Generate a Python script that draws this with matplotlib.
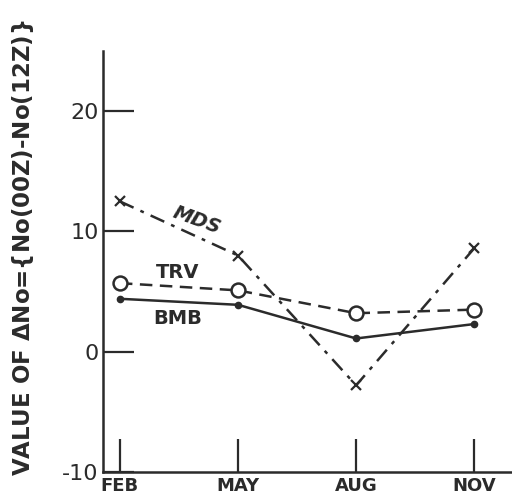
import matplotlib
matplotlib.use("Agg")
import matplotlib.pyplot as plt
import numpy as np

months = ["FEB", "MAY", "AUG", "NOV"]
mds = [12.5, 8.0, -2.8, 8.6]
trv = [5.7, 5.1, 3.2, 3.5]
bmb = [4.4, 3.9, 1.1, 2.3]
yticks = [-10, 0, 10, 20]
ylabel = r"VALUE OF $\mathbf{\Delta}$No={No(00Z)-No(12Z)}"

ink = "#2b2b2b"
plt.rcParams["font.family"] = ["DejaVu Sans"]

fig = plt.figure(figsize=(5.12, 5.01), dpi=100)
ax = fig.add_axes([0.201, 0.058, 0.799, 0.84])
x = np.arange(len(months))

ax.plot(x, mds, linestyle=(0, (6, 3, 1.5, 3)), color=ink, lw=1.8,
        marker="x", ms=7, mew=1.6)
ax.plot(x, trv, linestyle=(0, (5, 3)), color=ink, lw=1.8,
        marker="o", ms=10, mfc="white", mew=1.8)
ax.plot(x, bmb, linestyle="-", color=ink, lw=1.8,
        marker="o", ms=4.5, mfc=ink)

# curve labels
ax.text(0.65, 10.9, "MDS", rotation=-20, fontsize=14, fontweight="bold",
        color=ink, ha="center", va="center", style="italic")
ax.text(0.49, 6.6, "TRV", fontsize=14, fontweight="bold", color=ink,
        ha="center", va="center")
ax.text(0.49, 2.8, "BMB", fontsize=14, fontweight="bold", color=ink,
        ha="center", va="center")

ax.set_xlim(-0.144, 3.32)
ax.set_ylim(-10, 25)
ax.set_xticks(x)
ax.set_xticklabels(months, fontsize=13, fontweight="bold", color=ink)
ax.set_yticks(yticks)
ax.set_yticklabels([str(v) for v in yticks], fontsize=16, color=ink)
ax.tick_params(axis="x", direction="in", length=24, width=1.6, color=ink, pad=4)
ax.tick_params(axis="y", direction="in", length=22, width=1.6, color=ink, pad=3)
for s in ["top", "right"]:
    ax.spines[s].set_visible(False)
for s in ["left", "bottom"]:
    ax.spines[s].set_linewidth(1.8)
    ax.spines[s].set_color(ink)

fig.text(0.045, 0.505, ylabel, rotation=90, fontsize=16.5, fontweight="bold",
         color=ink, ha="center", va="center")

fig.savefig("out.png", dpi=100)
